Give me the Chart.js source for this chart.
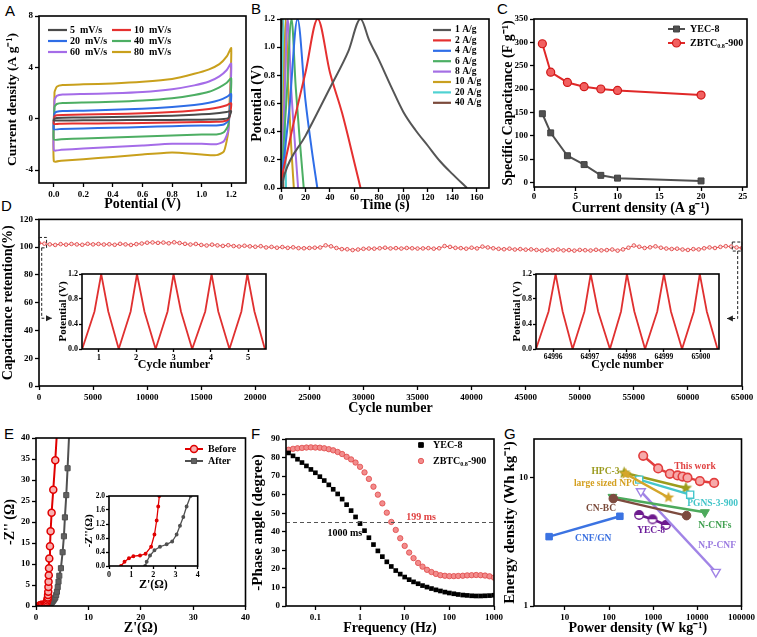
<!doctype html>
<html lang="en">
<head>
<meta charset="UTF-8">
<title>Electrochemical performance</title>
<script src="https://cdn.jsdelivr.net/npm/chart.js@4.4.1/dist/chart.umd.min.js"></script>
<style>
  body { margin: 0; background: #fff; }
  #page { position: relative; width: 757px; height: 637px; overflow: hidden; background: #fff; }
  #page canvas { position: absolute; }
  .tag { position: absolute; font: 15px "Liberation Sans", Arial, sans-serif; line-height: 15px; color: #000; }
</style>
</head>
<body>
<div id="page">
  <div class="tag" style="left:5px;top:3px">A</div>
  <div class="tag" style="left:251px;top:1px">B</div>
  <div class="tag" style="left:497px;top:1px">C</div>
  <div class="tag" style="left:1px;top:198px">D</div>
  <div class="tag" style="left:4px;top:426px">E</div>
  <div class="tag" style="left:251px;top:426px">F</div>
  <div class="tag" style="left:504px;top:426px">G</div>
</div>
<script>
const SERIF = '"Liberation Serif", "Times New Roman", serif';

// ---------- A : cyclic voltammetry ----------
const cvLabels = ['5  mV/s', '10  mV/s', '20  mV/s', '40  mV/s', '60  mV/s', '80  mV/s'];
const cvColors = ['#4a4a4a', '#e5312f', '#2e6de6', '#4dae63', '#a56ce8', '#c9a01c'];
const cvUpPot = [0.005, 0.02, 0.06, 0.2, 0.4, 0.6, 0.8, 0.95, 1.05, 1.12, 1.17, 1.2];
const cvDownPot = [1.19, 1.18, 1.15, 1.1, 1.0, 0.8, 0.6, 0.4, 0.2, 0.05, 0.0];
const cvUp5 = [0.02, 0.06, 0.08, 0.1, 0.14, 0.18, 0.24, 0.32, 0.38, 0.45, 0.53, 0.6];
const cvUp10 = [0.22, 0.28, 0.3, 0.33, 0.37, 0.43, 0.52, 0.64, 0.76, 0.9, 1.05, 1.2];
const cvUp20 = [0.45, 0.55, 0.6, 0.63, 0.7, 0.78, 0.92, 1.08, 1.25, 1.45, 1.7, 1.92];
const cvUp40 = [0.95, 1.15, 1.22, 1.27, 1.32, 1.42, 1.6, 1.85, 2.1, 2.45, 2.8, 3.15];
const cvUp60 = [1.5, 1.78, 1.88, 1.93, 1.98, 2.08, 2.3, 2.6, 2.9, 3.3, 3.8, 4.3];
const cvUp80 = [2.1, 2.5, 2.62, 2.68, 2.75, 2.88, 3.1, 3.5, 3.85, 4.25, 4.85, 5.5];
const cvDown5 = [0.25, 0.05, -0.02, -0.05, -0.07, -0.09, -0.1, -0.11, -0.12, -0.13, -0.13];
const cvDown10 = [0.25, -0.05, -0.2, -0.24, -0.26, -0.3, -0.33, -0.35, -0.37, -0.38, -0.39];
const cvDown20 = [0.4, -0.15, -0.45, -0.52, -0.52, -0.58, -0.64, -0.7, -0.75, -0.79, -0.8];
const cvDown40 = [0.6, -0.5, -1.05, -1.22, -1.22, -1.3, -1.38, -1.45, -1.53, -1.59, -1.61];
const cvDown60 = [1.0, -0.9, -1.75, -1.98, -1.95, -1.95, -2.08, -2.2, -2.32, -2.42, -2.44];
const cvDown80 = [1.5, -1.0, -2.55, -2.83, -2.78, -2.62, -2.78, -2.97, -3.15, -3.27, -3.3];
const cvPotTicks = [0, 0.2, 0.4, 0.6, 0.8, 1.0, 1.2];
const cvCurTicks = [-4, 0, 4, 8];

// ---------- B : charge / discharge ----------
const gcdLabels = ['1 A/g', '2 A/g', '4 A/g', '6 A/g', '8 A/g', '10 A/g', '20 A/g', '40 A/g'];
const gcdColors = ['#555555', '#e53030', '#2f6ee8', '#4caf64', '#a46fe4', '#c9a020', '#4fd2d2', '#7b4a3c'];
const gcdT1 = [0.5, 3, 20, 40, 55, 65, 72, 80, 90, 100, 110, 120, 130, 140, 152];
const gcdV1 = [0, 0.1, 0.37, 0.71, 0.97, 1.2, 1.05, 0.91, 0.72, 0.54, 0.41, 0.3, 0.19, 0.1, 0];
const gcdT2 = [0, 10, 20, 30, 40, 50, 60, 65];
const gcdV2 = [0.05, 0.45, 0.82, 1.2, 0.82, 0.53, 0.18, 0];
const gcdT4 = [0, 6.7, 13.5, 20, 25, 29.7];
const gcdV4 = [0.03, 0.55, 1.2, 0.62, 0.28, 0];
const gcdT6 = [0, 4.3, 8.6, 12, 15.5, 18.6];
const gcdV6 = [0.03, 0.6, 1.2, 0.72, 0.32, 0];
const gcdT8 = [0, 2.7, 5.4, 8.5, 11.5, 14];
const gcdV8 = [0.02, 0.6, 1.2, 0.68, 0.3, 0];
const gcdT10 = [0, 1.9, 3.9, 6, 8.3, 10.5];
const gcdV10 = [0.02, 0.6, 1.2, 0.7, 0.3, 0];
const gcdT20 = [0, 1.0, 2.0, 3.0, 4.1];
const gcdV20 = [0.02, 0.6, 1.2, 0.58, 0];
const gcdT40 = [0, 0.4, 0.85, 1.35, 1.9];
const gcdV40 = [0.02, 0.6, 1.2, 0.55, 0];
const gcdTimeTicks = [0, 20, 40, 60, 80, 100, 120, 140, 160];
const gcdPotTicks = [0, 0.2, 0.4, 0.6, 0.8, 1.0, 1.2];

// ---------- C : rate capability ----------
const rateCD = [1, 2, 4, 6, 8, 10, 20];
const capYEC = [147, 106, 57, 38, 15, 9, 3];
const capZBTC = [297, 236, 214, 205, 200, 197, 187];
const rateTicks = [0, 5, 10, 15, 20, 25];
const capTicks = [0, 50, 100, 150, 200, 250, 300, 350];

// ---------- D : cycling ----------
const retentionPct = [
  103.0, 102.5, 102.0, 101.6, 102.2, 101.8, 102.3, 102.0, 101.7, 102.4, 102.0,
  102.3, 101.9, 102.1, 101.7, 102.4, 102.0, 101.6, 102.2, 102.6, 103.2,
  103.4, 103.1, 103.3, 102.8, 103.5, 103.0, 102.4, 101.9, 102.3, 101.6,
  101.2, 101.8, 101.3, 100.9, 101.4, 100.8, 100.5, 101.0, 100.6, 100.3,
  100.7, 99.8, 100.2, 99.6, 100.1, 99.5, 99.9, 99.3, 99.2, 99.4,
  99.6, 99.8, 101.3, 100.6, 99.4, 98.6, 98.5, 97.9, 98.3, 98.8,
  99.0, 98.9, 99.2, 99.6, 99.1, 99.3, 99.0, 99.4, 99.2, 99.0,
  99.1, 99.3, 98.9, 99.2, 100.8, 100.2, 99.5, 99.3, 98.9, 99.6,
  99.1, 100.4, 99.8, 99.2, 98.8, 98.5, 98.9, 98.3, 98.6, 98.2,
  98.4, 98.0, 97.6, 98.1, 97.8, 98.3, 97.7, 97.9, 97.5, 98.0,
  97.8, 97.6, 98.1, 97.7, 97.9, 98.3, 97.5, 98.4, 99.6, 101.2,
  100.3, 99.4, 99.9, 100.6, 99.6, 99.0, 98.7, 98.9, 98.3, 98.0,
  98.6, 98.4, 99.2, 99.8, 99.4, 100.2, 100.7, 100.4, 99.8, 99.4
];
const retentionCycles = retentionPct.map((v, i) => i * 500);
const cycleTicks = [0, 5000, 10000, 15000, 20000, 25000, 30000, 35000, 40000, 45000, 50000, 55000, 60000, 65000];
const retentionTicks = [0, 20, 40, 60, 80, 100, 120];
const firstCycT = [0.55, 0.88, 1.06, 1.25, 1.53, 1.85, 2.02, 2.22, 2.52, 2.84, 3.0, 3.2, 3.5, 3.85, 4.02, 4.2, 4.5, 4.82, 4.98, 5.17, 5.45];
const lastCycT = [64995.54, 64995.88, 64996.07, 64996.26, 64996.53, 64996.85, 64997.02, 64997.22, 64997.54, 64997.84, 64998.0, 64998.2, 64998.49, 64998.82, 64999.0, 64999.19, 64999.49, 64999.81, 64999.97, 65000.16, 65000.45];
const cycV = [0, 0.6, 1.2, 0.6, 0, 0.6, 1.2, 0.6, 0, 0.6, 1.2, 0.6, 0, 0.6, 1.2, 0.6, 0, 0.6, 1.2, 0.6, 0];
const firstCycTicks = [1, 2, 3, 4, 5];
const lastCycTicks = [64996, 64997, 64998, 64999, 65000];
const cycPotTicks = [0, 0.4, 0.8, 1.2];

// ---------- E : Nyquist ----------
const befZr = [0.54, 0.7, 0.9, 1.1, 1.4, 1.65, 1.9, 2.05, 2.15, 2.22, 2.27, 2.3, 2.34, 2.37, 2.4, 2.44, 2.48, 2.54, 2.67, 2.79, 2.98, 3.3, 3.68, 4.1];
const befZi = [0, 0.12, 0.22, 0.28, 0.3, 0.35, 0.55, 0.9, 1.3, 1.7, 2.0, 2.6, 3.4, 4.5, 5.8, 7.3, 9.0, 11.3, 14.2, 17.8, 22.2, 27.7, 34.7, 43.5];
const aftZr = [1.63, 1.7, 1.85, 2.05, 2.3, 2.6, 2.85, 3.05, 3.2, 3.35, 3.5, 3.68, 3.85, 4.0, 4.15, 4.3, 4.45, 4.76, 5.08, 5.33, 5.52, 5.78, 6.03, 6.35];
const aftZi = [0, 0.12, 0.3, 0.45, 0.55, 0.62, 0.7, 0.9, 1.15, 1.4, 1.7, 2.0, 2.6, 3.4, 4.5, 5.8, 7.2, 9.0, 12.8, 16.6, 21.1, 26.4, 32.8, 41.5];
const zTicks = [0, 10, 20, 30, 40];
const ziTicks = [0, 5, 10, 15, 20, 25, 30, 35, 40];
const zInTicks = [0, 1, 2, 3, 4];
const ziInTicks = [0, 0.4, 0.8, 1.2, 1.6, 2.0];

// ---------- F : Bode phase ----------
const bodeFreq = [0.02, 0.0251, 0.0316, 0.0398, 0.0501, 0.0631, 0.0794, 0.1, 0.126, 0.158, 0.2, 0.251, 0.316, 0.398, 0.501, 0.631, 0.794, 1, 1.26, 1.58, 2, 2.51, 3.16, 3.98, 5.01, 6.31, 7.94, 10, 12.6, 15.8, 20, 25.1, 31.6, 39.8, 50.1, 63.1, 79.4, 100, 126, 158, 200, 251, 316, 398, 501, 631, 794, 1000];
const yecPhase = [null, 82.5, 80.9, 79.1, 77.3, 75.5, 73.6, 71.8, 69.7, 67.6, 65.3, 62.9, 60.4, 57.6, 54.6, 51.4, 48.0, 44.4, 40.6, 36.8, 33.1, 29.7, 26.6, 23.8, 21.3, 19.1, 17.2, 15.6, 14.2, 13.0, 12.0, 11.0, 10.2, 9.4, 8.7, 8.1, 7.5, 7.0, 6.6, 6.2, 5.9, 5.7, 5.5, 5.4, 5.4, 5.5, 5.6, 5.8];
const zbtcPhase = [83.6, 84.2, 84.7, 85.0, 85.2, 85.4, 85.5, 85.4, 85.3, 85.0, 84.5, 83.9, 83.0, 81.9, 80.4, 79.0, 77.3, 75.0, 72.0, 68.5, 64.3, 60.0, 55.3, 50.3, 45.3, 41.0, 36.5, 32.4, 28.8, 25.8, 23.2, 21.2, 19.5, 18.3, 17.3, 16.6, 16.3, 16.1, 16.1, 16.2, 16.3, 16.5, 16.6, 16.7, 16.6, 16.4, 16.0, 15.3];
const phaseRef = 45;
const freqTicks = [0.1, 1, 10, 100, 1000];
const phaseTicks = [0, 10, 20, 30, 40, 50, 60, 70, 80, 90];

// ---------- G : Ragone ----------
const thisWorkP = [594, 1297, 2383, 3556, 4613, 5985, 11400, 24000];
const thisWorkE = [14.8, 11.8, 10.7, 10.4, 10.2, 10.0, 9.4, 9.1];
const hpcP = [220, 5500], hpcE = [10.9, 8.3];
const npcP = [240, 2220], npcE = [10.7, 7.0];
const pgnsP = [482, 6880], pgnsE = [9.65, 7.37];
const ncnfP = [120, 14800], ncnfE = [7.07, 5.37];
const cnbcP = [125, 5690], cnbcE = [6.86, 5.06];
const yecP = [480, 966, 1937], yecE = [5.12, 4.74, 4.28];
const npcnfP = [526, 26200], npcnfE = [7.83, 1.84];
const cnfgnP = [4.4, 176], cnfgnE = [3.47, 5.0];
const powerTicks = [10, 100, 1000, 10000, 100000];
const energyTicks = [1, 10];

// ================= helpers =================
function pts(xs, ys) { return xs.map((x, i) => ({ x: x, y: ys[i] })); }

function loopPts(upX, upY, dnX, dnY) {
  const p = pts(upX, upY).concat(pts(dnX, dnY));
  p.push(p[0]);
  return p;
}

function makeCanvas(l, t, w, h) {
  const c = document.createElement('canvas');
  c.width = w; c.height = h;
  c.style.left = l + 'px'; c.style.top = t + 'px';
  c.style.width = w + 'px'; c.style.height = h + 'px';
  document.getElementById('page').appendChild(c);
  return c;
}

function richText(ctx, str, x, y, size) {
  const parts = str.split(/(_\{[^}]*\})/);
  let cx = x;
  for (const p of parts) {
    if (!p) continue;
    const sub = p.startsWith('_{');
    const t = sub ? p.slice(2, -1) : p;
    ctx.font = 'bold ' + (sub ? size * 0.62 : size) + 'px ' + SERIF;
    ctx.fillText(t, cx, sub ? y + size * 0.3 : y);
    cx += ctx.measureText(t).width;
  }
}

function ax(o) {
  return {
    type: o.log ? 'logarithmic' : 'linear',
    min: o.min, max: o.max,
    afterFit: s => { if (s.isHorizontal()) s.height = o.size; else s.width = o.size; },
    afterBuildTicks: s => { s.ticks = o.ticks.map(v => ({ value: v })); },
    grid: { drawOnChartArea: false, drawTicks: true, tickLength: o.tl || 4, tickWidth: 1.3, tickColor: '#000' },
    border: { display: false },
    ticks: {
      color: '#000', padding: o.tp === undefined ? 2 : o.tp, maxRotation: 0, autoSkip: false,
      font: { family: SERIF, weight: 'bold', size: o.fs || 9 },
      callback: v => o.fmt ? o.fmt(v) : String(v)
    },
    title: {
      display: true, text: o.title, color: '#000',
      padding: { top: o.pad || 0, bottom: o.pad || 0 },
      font: { family: SERIF, weight: 'bold', size: o.ts || 14 }
    }
  };
}

const fix1 = v => v.toFixed(1);

const frame = {
  id: 'frame',
  afterDatasetsDraw(chart) {
    const { ctx, chartArea: a } = chart;
    ctx.save();
    ctx.strokeStyle = '#000';
    ctx.lineWidth = 1.6;
    ctx.strokeRect(a.left, a.top, a.right - a.left, a.bottom - a.top);
    ctx.restore();
  }
};
Chart.register(frame);

function marker(ctx, d, x, y) {
  const r = d.pointRadius;
  ctx.fillStyle = d.pointBackgroundColor;
  ctx.strokeStyle = d.pointBorderColor || d.borderColor;
  ctx.lineWidth = d.pointBorderWidth || 1;
  ctx.beginPath();
  if (d.pointStyle === 'rect') {
    const s = r * Math.SQRT1_2;
    ctx.rect(x - s, y - s, 2 * s, 2 * s);
  } else {
    ctx.arc(x, y, r, 0, Math.PI * 2);
  }
  ctx.fill();
  ctx.stroke();
}

function legendBox(cfg) {
  return {
    id: 'legendBox',
    afterDraw(chart) {
      const { ctx, chartArea: a } = chart;
      const items = chart.data.datasets.filter(d => d.label);
      ctx.save();
      ctx.textBaseline = 'middle';
      ctx.textAlign = 'left';
      items.forEach((d, i) => {
        const c = i % cfg.cols, r = Math.floor(i / cfg.cols);
        const x = a.left + cfg.x + c * (cfg.colW || 0);
        const y = a.top + cfg.y + r * cfg.rowH;
        if (cfg.line) {
          ctx.strokeStyle = d.borderColor;
          ctx.lineWidth = cfg.lw || 2;
          ctx.beginPath(); ctx.moveTo(x, y); ctx.lineTo(x + cfg.len, y); ctx.stroke();
        }
        if (cfg.marker) marker(ctx, d, x + cfg.len / 2, y);
        ctx.fillStyle = '#000';
        richText(ctx, d.label, x + cfg.gap, y, cfg.size);
      });
      ctx.restore();
    }
  };
}

function tagText(list, size) {
  return {
    id: 'tagText',
    afterDraw(chart) {
      const { ctx, scales: { x, y } } = chart;
      ctx.save();
      ctx.textBaseline = 'middle';
      ctx.font = 'bold ' + size + 'px ' + SERIF;
      list.forEach(t => {
        ctx.fillStyle = t.color;
        ctx.textAlign = t.align || 'left';
        ctx.fillText(t.text, x.getPixelForValue(t.x), y.getPixelForValue(t.y));
      });
      ctx.restore();
    }
  };
}

function plot(box, datasets, x, y, extra) {
  return new Chart(makeCanvas(box[0], box[1], box[2], box[3]), {
    type: 'scatter',
    data: { datasets: datasets },
    options: {
      responsive: false, animation: false, devicePixelRatio: 1, events: [],
      layout: { padding: box[4] },
      scales: { x: x, y: y },
      plugins: { legend: { display: false }, tooltip: { enabled: false } }
    },
    plugins: extra || []
  });
}

function starImg(color, r) {
  const c = document.createElement('canvas');
  const s = Math.ceil(r * 2 + 2);
  c.width = s; c.height = s;
  const g = c.getContext('2d');
  g.fillStyle = color;
  g.beginPath();
  for (let i = 0; i < 10; i++) {
    const rr = i % 2 ? r * 0.45 : r;
    const ang = -Math.PI / 2 + i * Math.PI / 5;
    g.lineTo(s / 2 + rr * Math.cos(ang), s / 2 + rr * Math.sin(ang));
  }
  g.closePath(); g.fill();
  return c;
}

function halfImg(color, r) {
  const c = document.createElement('canvas');
  const s = Math.ceil(r * 2 + 3);
  c.width = s; c.height = s;
  const g = c.getContext('2d');
  g.fillStyle = '#fff';
  g.beginPath(); g.arc(s / 2, s / 2, r, 0, Math.PI * 2); g.fill();
  g.fillStyle = color;
  g.beginPath(); g.arc(s / 2, s / 2, r, Math.PI, 0); g.fill();
  g.strokeStyle = color; g.lineWidth = 1.4;
  g.beginPath(); g.arc(s / 2, s / 2, r, 0, Math.PI * 2); g.stroke();
  return c;
}

// ================= A =================
const cvUp = [cvUp5, cvUp10, cvUp20, cvUp40, cvUp60, cvUp80];
const cvDown = [cvDown5, cvDown10, cvDown20, cvDown40, cvDown60, cvDown80];
plot([0, 0, 252, 214, { top: 16, right: 6, bottom: 0, left: 0 }],
  cvLabels.map((lab, i) => ({
    label: lab, data: loopPts(cvUpPot, cvUp[i], cvDownPot, cvDown[i]), showLine: true,
    borderColor: cvColors[i], borderWidth: 2, pointRadius: 0, tension: 0.2
  })),
  ax({ min: -0.1, max: 1.3, ticks: cvPotTicks, fmt: fix1, size: 31, title: 'Potential (V)', pad: 1.6 }),
  ax({ min: -5, max: 8, ticks: cvCurTicks, size: 39, title: 'Current density (A g\u207B\u00B9)', ts: 13.5, pad: 4 }),
  [legendBox({ x: 9, y: 14, rowH: 11, colW: 64, cols: 2, len: 19, gap: 22, line: true, size: 10, lw: 2.2 })]);

// ================= B =================
const gcdT = [gcdT1, gcdT2, gcdT4, gcdT6, gcdT8, gcdT10, gcdT20, gcdT40];
const gcdV = [gcdV1, gcdV2, gcdV4, gcdV6, gcdV8, gcdV10, gcdV20, gcdV40];
plot([244, 0, 253, 214, { top: 19, right: 8, bottom: 0, left: 0 }],
  gcdLabels.map((lab, i) => ({
    label: lab, data: pts(gcdT[i], gcdV[i]), showLine: true,
    borderColor: gcdColors[i], borderWidth: 2, pointRadius: 0, cubicInterpolationMode: 'monotone'
  })),
  ax({ min: 0, max: 170, ticks: gcdTimeTicks, size: 26, title: 'Time (s)', pad: 0.4, tp: 0 }),
  ax({ min: 0, max: 1.2, ticks: gcdPotTicks, fmt: fix1, size: 37, title: 'Potential (V)', pad: 4.6 }),
  [legendBox({ x: 152, y: 11, rowH: 10.4, cols: 1, len: 18, gap: 22, line: true, size: 9.5, lw: 2.2 })]);

// ================= C =================
plot([496, 0, 261, 220, { top: 19, right: 10, bottom: 0, left: 0 }],
  [
    { label: 'YEC-8', data: pts(rateCD, capYEC), showLine: true, borderColor: '#505050', borderWidth: 2,
      pointStyle: 'rect', pointRadius: 4.2, pointBackgroundColor: '#505050', pointBorderColor: '#404040', pointBorderWidth: 1 },
    { label: 'ZBTC_{0.8}-900', data: pts(rateCD, capZBTC), showLine: true, borderColor: '#e02828', borderWidth: 2,
      pointStyle: 'circle', pointRadius: 4, pointBackgroundColor: '#f26060', pointBorderColor: '#d01818', pointBorderWidth: 1.2 }
  ],
  ax({ min: 0, max: 25.5, ticks: rateTicks, size: 33, title: 'Current density (A g\u207B\u00B9)', pad: 3.6, tp: 0 }),
  ax({ min: -10, max: 350, ticks: capTicks, size: 38, title: 'Specific Capacitance (F g\u207B\u00B9)', pad: 3.6 }),
  [legendBox({ x: 134, y: 10, rowH: 14, cols: 1, len: 17, gap: 22, line: true, marker: true, size: 10 })]);

// ================= D =================
const dashMarks = {
  id: 'dashMarks',
  afterDatasetsDraw(chart) {
    const { ctx, scales: { x, y } } = chart;
    const boxes = [[0, 700, 99.5, 107], [64100, 65000, 97.2, 103.7]];
    const paths = [[[250, 99.5], [250, 48.8], [1200, 48.8]], [[64600, 97.2], [64600, 48.6], [63600, 48.6]]];
    ctx.save();
    ctx.strokeStyle = '#222'; ctx.fillStyle = '#222'; ctx.lineWidth = 1;
    ctx.setLineDash([3, 2]);
    boxes.forEach(b => {
      const x0 = x.getPixelForValue(b[0]), x1 = x.getPixelForValue(b[1]);
      const y0 = y.getPixelForValue(b[2]), y1 = y.getPixelForValue(b[3]);
      ctx.strokeRect(x0, y1, x1 - x0, y0 - y1);
    });
    paths.forEach(p => {
      ctx.setLineDash([3, 2]);
      ctx.beginPath();
      p.forEach((q, i) => {
        const px = x.getPixelForValue(q[0]), py = y.getPixelForValue(q[1]);
        if (i) ctx.lineTo(px, py); else ctx.moveTo(px, py);
      });
      ctx.stroke();
      const a = p[p.length - 2], b = p[p.length - 1];
      const ax0 = x.getPixelForValue(a[0]), ay0 = y.getPixelForValue(a[1]);
      const bx = x.getPixelForValue(b[0]), by = y.getPixelForValue(b[1]);
      const ang = Math.atan2(by - ay0, bx - ax0);
      ctx.setLineDash([]);
      ctx.beginPath();
      ctx.moveTo(bx, by);
      ctx.lineTo(bx - 6 * Math.cos(ang) + 3 * Math.sin(ang), by - 6 * Math.sin(ang) - 3 * Math.cos(ang));
      ctx.lineTo(bx - 6 * Math.cos(ang) - 3 * Math.sin(ang), by - 6 * Math.sin(ang) + 3 * Math.cos(ang));
      ctx.closePath(); ctx.fill();
    });
    ctx.restore();
  }
};
plot([0, 212, 757, 206, { top: 7, right: 15, bottom: 0, left: 0 }],
  [{ data: pts(retentionCycles, retentionPct), showLine: true, borderColor: '#e85050', borderWidth: 1,
     pointRadius: 1.8, pointBorderWidth: 0.9, pointBackgroundColor: '#fde0e0', pointBorderColor: '#e04848' }],
  ax({ min: 0, max: 65000, ticks: cycleTicks, size: 32, title: 'Cycle number', pad: 1 }),
  ax({ min: 0, max: 120, ticks: retentionTicks, size: 39, title: 'Capacitance retention(%)', pad: 0 }),
  [dashMarks]);

plot([50, 268, 222, 104, { top: 6, right: 6, bottom: 0, left: 0 }],
  [{ data: pts(firstCycT, cycV), showLine: true, borderColor: '#e03030', borderWidth: 1.8, pointRadius: 0 }],
  ax({ min: 0.545, max: 5.48, ticks: firstCycTicks, size: 23, title: 'Cycle number', ts: 12, pad: 0, fs: 8.5, tl: 3, tp: 1 }),
  ax({ min: 0, max: 1.2, ticks: cycPotTicks, fmt: fix1, size: 32, title: 'Potential (V)', ts: 11, pad: 6.7, fs: 8, tl: 3, tp: 1 }));

plot([504, 268, 221, 104, { top: 6, right: 6, bottom: 0, left: 0 }],
  [{ data: pts(lastCycT, cycV), showLine: true, borderColor: '#e03030', borderWidth: 1.8, pointRadius: 0 }],
  ax({ min: 64995.54, max: 65000.49, ticks: lastCycTicks, size: 23, title: 'Cycle number', ts: 12, pad: 0, fs: 7.5, tl: 3, tp: 1 }),
  ax({ min: 0, max: 1.2, ticks: cycPotTicks, fmt: fix1, size: 32, title: 'Potential (V)', ts: 11, pad: 6.7, fs: 8, tl: 3, tp: 1 }));

// ================= E =================
plot([0, 430, 252, 207, { top: 8, right: 6, bottom: 0, left: 0 }],
  [
    { label: 'Before', data: pts(befZr, befZi), showLine: true, borderColor: '#e00000', borderWidth: 2,
      pointStyle: 'circle', pointRadius: 3.5, pointBackgroundColor: '#f8b0b0', pointBorderColor: '#e00000', pointBorderWidth: 1.5 },
    { label: 'After', data: pts(aftZr, aftZi), showLine: true, borderColor: '#505050', borderWidth: 2,
      pointStyle: 'rect', pointRadius: 3.6, pointBackgroundColor: '#606060', pointBorderColor: '#505050', pointBorderWidth: 1 }
  ],
  ax({ min: 0, max: 40, ticks: zTicks, size: 31, title: "Z'(\u03A9)", pad: 0.6 }),
  ax({ min: 0, max: 40, ticks: ziTicks, size: 36, title: "-Z'' (\u03A9)", pad: 1.6 }),
  [legendBox({ x: 149, y: 11, rowH: 12, cols: 1, len: 18, gap: 23, line: true, marker: true, size: 10 })]);

plot([78, 490, 125, 103, { top: 6, right: 4, bottom: 0, left: 0 }],
  [
    { data: pts(befZr, befZi), showLine: true, borderColor: '#e00000', borderWidth: 1.3,
      pointRadius: 1.3, pointBackgroundColor: '#e00000', pointBorderColor: '#e00000' },
    { data: pts(aftZr, aftZi), showLine: true, borderColor: '#505050', borderWidth: 1.3,
      pointRadius: 1.3, pointBackgroundColor: '#505050', pointBorderColor: '#505050' }
  ],
  ax({ min: 0, max: 4, ticks: zInTicks, size: 27, title: "Z'(\u03A9)", ts: 12, pad: 0.8, fs: 8, tl: 3, tp: 1 }),
  ax({ min: 0, max: 2, ticks: ziInTicks, fmt: fix1, size: 31, title: "-Z''(\u03A9)", ts: 11, pad: 4.4, fs: 7.5, tl: 3, tp: 1 }));

// ================= F =================
plot([244, 430, 262, 207, { top: 9, right: 12, bottom: 0, left: 0 }],
  [
    { data: [{ x: 0.022, y: phaseRef }, { x: 1000, y: phaseRef }], showLine: true, borderColor: '#555', borderWidth: 1,
      borderDash: [4, 3], pointRadius: 0 },
    { label: 'YEC-8', data: pts(bodeFreq, yecPhase), pointStyle: 'rect', pointRadius: 3.3,
      pointBackgroundColor: '#000', pointBorderColor: '#000', pointBorderWidth: 0 },
    { label: 'ZBTC_{0.8}-900', data: pts(bodeFreq, zbtcPhase), pointStyle: 'circle', pointRadius: 2.7,
      pointBackgroundColor: '#f28c8c', pointBorderColor: '#e04848', pointBorderWidth: 0.8 }
  ],
  ax({ log: true, min: 0.022, max: 1000, ticks: freqTicks, size: 31, title: 'Frequency (Hz)', pad: 0.6 }),
  ax({ min: 0, max: 90, ticks: phaseTicks, size: 42, title: '-Phase angle (degree)', ts: 15, pad: 5 }),
  [legendBox({ x: 135, y: 6, rowH: 16, cols: 1, len: 0, gap: 12, marker: true, size: 10 }),
   tagText([
     { text: '199 ms', x: 10.8, y: 48, color: '#e04040' },
     { text: '1000 ms', x: 1.12, y: 39.3, color: '#000', align: 'right' }
   ], 10)]);

// ================= G =================
function ragone(p, e, color, style, r, bg, bw) {
  return { data: pts(p, e), showLine: true, borderColor: color, borderWidth: 2.5,
    pointStyle: style, pointRadius: r, pointBackgroundColor: bg, pointBorderColor: color, pointBorderWidth: bw };
}
plot([494, 430, 263, 207, { top: 9, right: 15, bottom: 0, left: 0 }],
  [
    ragone(cnfgnP, cnfgnE, '#3b73e2', 'rect', 4.6, '#3b73e2', 1),
    ragone(cnbcP, cnbcE, '#7d4b3f', 'circle', 4.3, '#7d4b3f', 1),
    ragone(ncnfP, ncnfE, '#4daa5c', 'triangle', 5.2, '#4daa5c', 1),
    ragone(npcnfP, npcnfE, '#a184e6', 'triangle', 5.2, '#ffffff', 1.4),
    ragone(yecP, yecE, '#6d1a8e', halfImg('#6d1a8e', 4.3), 4.3, '#fff', 1.4),
    ragone(npcP, npcE, '#d4a52a', starImg('#d4a52a', 6), 6, '#d4a52a', 1),
    ragone(pgnsP, pgnsE, '#45c6cc', 'rect', 5, '#ffffff', 1.4),
    ragone(hpcP, hpcE, '#9c9c1c', starImg('#9c9c1c', 6.5), 6.5, '#9c9c1c', 1),
    ragone(thisWorkP, thisWorkE, '#e23e3e', 'circle', 4.3, '#f6aaaa', 1.6)
  ].map(d => { if (d.pointStyle === 'triangle') d.pointRotation = 180; return d; }),
  ax({ log: true, min: 2, max: 100000, ticks: powerTicks, size: 31, title: 'Power density (W kg\u207B\u00B9)', pad: 0.6 }),
  ax({ log: true, min: 1, max: 20, ticks: energyTicks, size: 40, title: 'Energy density (Wh kg\u207B\u00B9)', ts: 15, pad: 7 }),
  [tagText([
    { text: 'This work', x: 3000, y: 12.2, color: '#e04040' },
    { text: 'HPC-3', x: 40, y: 11.1, color: '#9a9a1c' },
    { text: 'large sized NPC', x: 16, y: 9.0, color: '#d4a020' },
    { text: 'PGNS-3-900', x: 5900, y: 6.3, color: '#40c4c8' },
    { text: 'CN-BC', x: 30, y: 5.75, color: '#7a4a3a' },
    { text: 'N-CNFs', x: 10500, y: 4.25, color: '#40a050' },
    { text: 'YEC-8', x: 433, y: 3.85, color: '#6a1a9a' },
    { text: 'N,P-CNF', x: 10500, y: 2.97, color: '#9a7ae0' },
    { text: 'CNF/GN', x: 17, y: 3.37, color: '#3a70e0' }
  ], 9.5)]);
</script>
</body>
</html>
